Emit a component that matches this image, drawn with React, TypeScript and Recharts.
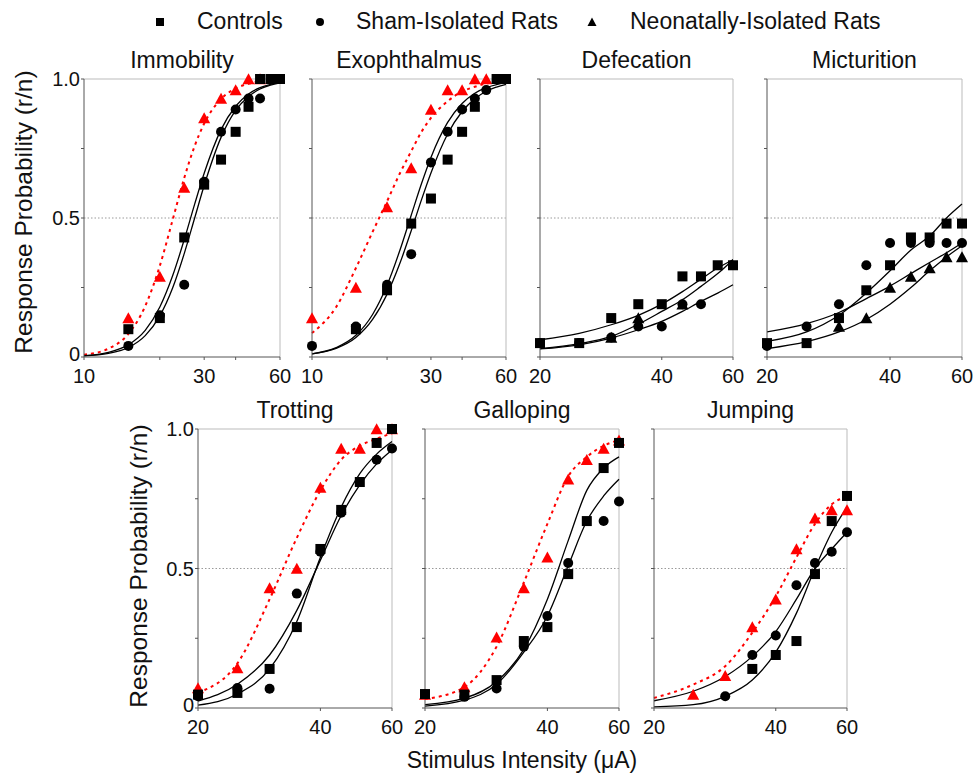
import React from 'react';
import { ComposedChart, Line, Scatter, XAxis, YAxis, ReferenceLine } from 'recharts';

const FONT = '"Liberation Sans", Arial, Helvetica, sans-serif';
const RED = '#ff0000';
const BLACK = '#000000';

// ---------- x values ----------
const doseWide = [10, 15, 20, 25, 30, 35, 40, 45, 50, 55, 60];
const doseNarrow = [20, 25, 30, 35, 40, 45, 50, 55, 60];
const fitWide = [10, 12.5, 15, 17.5, 20, 22.5, 25, 27.5, 30, 35, 40, 45, 50, 55, 60];
const fitNarrow = [20, 25, 30, 35, 40, 45, 50, 55, 60];
const xTicksWide = [10, 20, 30, 40, 60];
const xLabelsWide = [10, 30, 60];
const xTicksNarrow = [20, 40, 60];
const xLabelsNarrow = [20, 40, 60];
const yTicks = [0, 0.25, 0.5, 0.75, 1];
const yTickLabels = ['0', '', '0.5', '', '1.0'];

// ---------- Immobility ----------
const immobilityControls = [null, 0.10, 0.14, 0.43, 0.62, 0.71, 0.81, 0.90, 1.0, 1.0, 1.0];
const immobilitySham = [null, 0.04, 0.15, 0.26, 0.63, 0.81, 0.89, 0.93, 0.93, null, 1.0];
const immobilityNeonatal = [null, 0.14, 0.29, 0.61, 0.86, 0.93, 0.96, 1.0, 1.0, null, null];
const immobilityFitControls = [0.0052, 0.017, 0.044, 0.096, 0.18, 0.293, 0.422, 0.55, 0.661, 0.818, 0.902, 0.946, 0.969, 0.981, 0.988];
const immobilityFitSham = [0.0038, 0.0129, 0.034, 0.077, 0.148, 0.249, 0.372, 0.5, 0.617, 0.79, 0.887, 0.937, 0.964, 0.978, 0.986];
const immobilityFitNeonatal = [0.0083, 0.03, 0.083, 0.183, 0.328, 0.494, 0.644, 0.759, 0.84, 0.928, 0.966, 0.983, 0.991, 0.995, 0.997];

// ---------- Exophthalmus ----------
const exophthalmusControls = [null, 0.10, 0.24, 0.48, 0.57, 0.71, 0.81, 0.90, null, 1.0, 1.0];
const exophthalmusSham = [0.04, 0.11, 0.26, 0.37, 0.70, 0.81, 0.89, 0.93, 0.96, null, 1.0];
const exophthalmusNeonatal = [0.14, 0.25, 0.54, 0.68, 0.89, 0.96, 0.96, 1.0, 1.0, null, null];
const exophthalmusFitControls = [0.0111, 0.031, 0.07, 0.135, 0.226, 0.336, 0.454, 0.566, 0.662, 0.802, 0.883, 0.929, 0.956, 0.971, 0.981];
const exophthalmusFitSham = [0.0115, 0.0336, 0.078, 0.153, 0.258, 0.383, 0.51, 0.624, 0.718, 0.844, 0.912, 0.949, 0.969, 0.98, 0.987];
const exophthalmusFitNeonatal = [0.086, 0.18, 0.32, 0.45, 0.56, 0.66, 0.74, 0.81, 0.86, 0.92, 0.955, 0.972, 0.983, 0.99, 0.994];

// ---------- Defecation ----------
const defecationControls = [0.05, 0.05, 0.14, 0.19, 0.19, 0.29, 0.29, 0.33, 0.33];
const defecationSham = [0.05, 0.05, 0.07, 0.11, 0.11, 0.19, 0.19, null, null];
const defecationNeonatal = [null, null, 0.07, 0.14, null, 0.19, null, null, null];
const defecationFitControls = [0.062, 0.085, 0.116, 0.15, 0.19, 0.235, 0.28, 0.32, 0.35];
const defecationFitSham = [0.029, 0.044, 0.068, 0.098, 0.128, 0.164, 0.2, 0.23, 0.26];
const defecationFitNeonatal = [0.03, 0.048, 0.074, 0.118, 0.164, 0.206, 0.254, 0.3, 0.35];

// ---------- Micturition ----------
const micturitionControls = [0.05, 0.05, 0.14, 0.24, 0.33, 0.43, 0.43, 0.48, 0.48];
const micturitionSham = [0.04, 0.11, 0.19, 0.33, 0.41, 0.41, 0.41, 0.41, 0.41];
const micturitionNeonatal = [null, null, 0.11, 0.14, 0.25, 0.29, 0.32, 0.36, 0.36];
const micturitionFitControls = [0.056, 0.09, 0.15, 0.23, 0.31, 0.385, 0.435, 0.5, 0.55];
const micturitionFitSham = [0.09, 0.12, 0.16, 0.21, 0.255, 0.3, 0.34, 0.375, 0.41];
const micturitionFitNeonatal = [0.03, 0.055, 0.09, 0.135, 0.19, 0.25, 0.31, 0.36, 0.4];

// ---------- Trotting ----------
const trottingControls = [0.048, 0.054, 0.14, 0.29, 0.57, 0.71, 0.81, 0.95, 1.0];
const trottingSham = [0.042, 0.072, 0.069, 0.41, 0.56, 0.70, null, 0.89, 0.93];
const trottingNeonatal = [0.072, 0.143, 0.43, 0.50, 0.79, 0.93, 0.93, 1.0, 1.0];
const trottingFitControls = [0.01, 0.05, 0.14, 0.31, 0.54, 0.72, 0.84, 0.91, 0.955];
const trottingFitSham = [0.025, 0.085, 0.19, 0.35, 0.53, 0.69, 0.8, 0.875, 0.925];
const trottingFitNeonatal = [0.055, 0.16, 0.39, 0.61, 0.78, 0.89, 0.94, 0.965, 0.985];

// ---------- Galloping ----------
const gallopingControls = [0.05, 0.048, 0.10, 0.24, 0.29, 0.48, 0.67, 0.86, 0.95];
const gallopingSham = [null, 0.04, 0.07, 0.22, 0.33, 0.52, null, 0.67, 0.74];
const gallopingNeonatal = [0.048, 0.075, 0.254, 0.43, 0.54, 0.82, 0.89, 0.93, 0.96];
const gallopingFitControls = [0.012, 0.035, 0.095, 0.21, 0.39, 0.6, 0.78, 0.86, 0.9];
const gallopingFitSham = [0.007, 0.028, 0.085, 0.2, 0.33, 0.51, 0.67, 0.76, 0.82];
const gallopingFitNeonatal = [0.032, 0.075, 0.22, 0.45, 0.66, 0.83, 0.9, 0.94, 0.96];

// ---------- Jumping ----------
const jumpingControls = [null, null, null, 0.14, 0.19, 0.24, 0.48, 0.67, 0.76];
const jumpingSham = [null, null, 0.042, 0.19, 0.26, 0.44, 0.52, 0.56, 0.63];
const jumpingNeonatal = [null, 0.048, 0.116, 0.29, 0.39, 0.57, 0.68, 0.71, 0.71];
const jumpingFitControls = [0.004, 0.012, 0.042, 0.1, 0.2, 0.34, 0.5, 0.63, 0.72];
const jumpingFitSham = [0.026, 0.06, 0.113, 0.185, 0.274, 0.39, 0.5, 0.57, 0.63];
const jumpingFitNeonatal = [0.036, 0.084, 0.15, 0.27, 0.4, 0.54, 0.66, 0.73, 0.76];

type ShapeKind = 'square' | 'circle' | 'triangle';

const Marker = (kind: ShapeKind, color: string, size: number) => (props: any) => {
  const { cx, cy } = props;
  if (cx == null || cy == null) return <g />;
  const h = size / 2;
  if (kind === 'square') return <rect x={cx - h} y={cy - h} width={size} height={size} fill={color} />;
  if (kind === 'circle') return <circle cx={cx} cy={cy} r={h} fill={color} />;
  const tw = size * 1.15;
  return (
    <polygon
      points={`${cx},${cy - h - 0.5} ${cx - tw / 2},${cy + h} ${cx + tw / 2},${cy + h}`}
      fill={color}
    />
  );
};

type SeriesDef = {
  name: string;
  pts: (number | null)[];
  fit: number[];
  kind: ShapeKind;
  color: string;
  dashed: boolean;
};

type PanelDef = {
  title: string;
  left: number;
  top: number;
  w: number;
  h: number;
  wide: boolean;
  showY: boolean;
  series: SeriesDef[];
};

const mk = (
  c: (number | null)[], s: (number | null)[], n: (number | null)[],
  fc: number[], fs: number[], fn: number[], redNeonatal: boolean
): SeriesDef[] => [
  { name: 'neonatal', pts: n, fit: fn, kind: 'triangle', color: redNeonatal ? RED : BLACK, dashed: redNeonatal },
  { name: 'controls', pts: c, fit: fc, kind: 'square', color: BLACK, dashed: false },
  { name: 'sham', pts: s, fit: fs, kind: 'circle', color: BLACK, dashed: false },
];

const panels: PanelDef[] = [
  { title: 'Immobility', left: 84, top: 79, w: 196, h: 278, wide: true, showY: true,
    series: mk(immobilityControls, immobilitySham, immobilityNeonatal, immobilityFitControls, immobilityFitSham, immobilityFitNeonatal, true) },
  { title: 'Exophthalmus', left: 312, top: 79, w: 194, h: 278, wide: true, showY: false,
    series: mk(exophthalmusControls, exophthalmusSham, exophthalmusNeonatal, exophthalmusFitControls, exophthalmusFitSham, exophthalmusFitNeonatal, true) },
  { title: 'Defecation', left: 540, top: 79, w: 193, h: 278, wide: false, showY: false,
    series: mk(defecationControls, defecationSham, defecationNeonatal, defecationFitControls, defecationFitSham, defecationFitNeonatal, false) },
  { title: 'Micturition', left: 767, top: 79, w: 195, h: 278, wide: false, showY: false,
    series: mk(micturitionControls, micturitionSham, micturitionNeonatal, micturitionFitControls, micturitionFitSham, micturitionFitNeonatal, false) },
  { title: 'Trotting', left: 198, top: 429, w: 194, h: 279, wide: false, showY: true,
    series: mk(trottingControls, trottingSham, trottingNeonatal, trottingFitControls, trottingFitSham, trottingFitNeonatal, true) },
  { title: 'Galloping', left: 425, top: 429, w: 194, h: 279, wide: false, showY: false,
    series: mk(gallopingControls, gallopingSham, gallopingNeonatal, gallopingFitControls, gallopingFitSham, gallopingFitNeonatal, true) },
  { title: 'Jumping', left: 654, top: 429, w: 193, h: 279, wide: false, showY: false,
    series: mk(jumpingControls, jumpingSham, jumpingNeonatal, jumpingFitControls, jumpingFitSham, jumpingFitNeonatal, true) },
];

const ML = 60;
const MT = 12;
const MR = 12;
const XH = 40;
const TICK_FONT = 20;

const YTick = (showY: boolean) => (props: any) => {
  const { x, y, payload } = props;
  const v = payload?.value;
  const idx = yTicks.indexOf(v);
  const label = showY && idx >= 0 ? yTickLabels[idx] : '';
  if (!label) return <g />;
  return (
    <text
      x={x}
      y={y}
      dy={v === 0 ? '0.18em' : '0.355em'}
      textAnchor="end"
      fontSize={TICK_FONT}
      fontFamily={FONT}
      fill="#111"
    >
      {label}
    </text>
  );
};

function Panel({ p }: { p: PanelDef }) {
  const doses = p.wide ? doseWide : doseNarrow;
  const fitX = p.wide ? fitWide : fitNarrow;
  const domain: [number, number] = p.wide ? [10, 60] : [20, 60];
  const xTicks = p.wide ? xTicksWide : xTicksNarrow;
  const xLabels = p.wide ? xLabelsWide : xLabelsNarrow;
  const chartW = ML + p.w + MR;
  const chartH = MT + p.h + XH;
  const tickStyle = { fontSize: TICK_FONT, fill: '#111', fontFamily: FONT };
  return (
    <div style={{ position: 'absolute', left: p.left - ML, top: p.top - MT }}>
      <ComposedChart width={chartW} height={chartH} margin={{ top: MT, right: MR, bottom: 0, left: 0 }}>
        <XAxis
          dataKey="x"
          type="number"
          scale="log"
          domain={domain}
          ticks={xTicks}
          tickFormatter={(v: number) => (xLabels.includes(v) ? String(v) : '')}
          height={XH}
          tickSize={3}
          tickMargin={9}
          stroke="#555"
          tick={tickStyle}
          interval={0}
        />
        <YAxis
          dataKey="y"
          type="number"
          domain={[0, 1]}
          ticks={yTicks}
          width={ML}
          tickSize={3}
          tickMargin={1}
          stroke="#555"
          tick={YTick(p.showY)}
          interval={0}
        />
        <ReferenceLine y={0.5} stroke="#9a9a9a" strokeDasharray="1.5 2" strokeWidth={1} />
        <ReferenceLine y={1} stroke="#bbbbbb" strokeWidth={1} />
        <ReferenceLine x={domain[1]} stroke="#bbbbbb" strokeWidth={1} />
        {p.series.map((s) => (
          <Line
            key={'fit-' + s.name}
            data={fitX.map((x, i) => ({ x, y: s.fit[i] }))}
            dataKey="y"
            type="monotone"
            dot={false}
            activeDot={false}
            stroke={s.dashed ? RED : BLACK}
            strokeWidth={s.dashed ? 2 : 1.3}
            strokeDasharray={s.dashed ? '3 4' : undefined}
            isAnimationActive={false}
          />
        ))}
        {p.series.map((s) => (
          <Scatter
            key={'pts-' + s.name}
            data={doses.map((x, i) => ({ x, y: s.pts[i] })).filter((d) => d.y != null)}
            shape={Marker(s.kind, s.color, s.kind === 'triangle' ? 10.5 : 10)}
            isAnimationActive={false}
          />
        ))}
      </ComposedChart>
      <div
        style={{
          position: 'absolute',
          left: ML - 40,
          width: p.w + 80,
          top: MT - 30,
          lineHeight: '23px',
          fontSize: 23,
          fontFamily: FONT,
          color: '#111',
          textAlign: 'center',
          whiteSpace: 'nowrap',
        }}
      >
        {p.title}
      </div>
    </div>
  );
}

const legendItems: { label: string; kind: ShapeKind; cx: number; tx: number }[] = [
  { label: 'Controls', kind: 'square', cx: 160, tx: 197 },
  { label: 'Sham-Isolated Rats', kind: 'circle', cx: 320, tx: 356 },
  { label: 'Neonatally-Isolated Rats', kind: 'triangle', cx: 592, tx: 630 },
];

function LegendIcon({ kind }: { kind: ShapeKind }) {
  const s = 8;
  return (
    <svg width={12} height={12} style={{ display: 'block' }}>
      {kind === 'square' && <rect x={6 - s / 2} y={6 - s / 2} width={s} height={s} fill="#000" />}
      {kind === 'circle' && <circle cx={6} cy={6} r={4} fill="#000" />}
      {kind === 'triangle' && <polygon points="6,1.5 1.5,10 10.5,10" fill="#000" />}
    </svg>
  );
}

export default function App() {
  const textBase: React.CSSProperties = {
    position: 'absolute',
    fontFamily: FONT,
    color: '#111',
    whiteSpace: 'nowrap',
  };
  return (
    <div style={{ position: 'absolute', left: 0, top: 0, width: 975, height: 773, background: '#fff', overflow: 'hidden' }}>
      {legendItems.map((it) => (
        <React.Fragment key={it.label}>
          <div style={{ position: 'absolute', left: it.cx - 6, top: 16 }}>
            <LegendIcon kind={it.kind} />
          </div>
          <div style={{ ...textBase, left: it.tx, top: 10, fontSize: 23, lineHeight: '23px' }}>{it.label}</div>
        </React.Fragment>
      ))}
      {panels.map((p) => (
        <Panel key={p.title} p={p} />
      ))}
      {[
        { cx: 24, cy: 212 },
        { cx: 139, cy: 566 },
      ].map((pos, i) => (
        <div
          key={'ylab' + i}
          style={{
            ...textBase,
            left: pos.cx - 170,
            top: pos.cy - 15,
            width: 340,
            height: 30,
            lineHeight: '30px',
            fontSize: 24.5,
            textAlign: 'center',
            transform: 'rotate(-90deg)',
          }}
        >
          Response Probability (r/n)
        </div>
      ))}
      <div style={{ ...textBase, left: 522 - 200, width: 400, top: 749, fontSize: 23, lineHeight: '23px', textAlign: 'center' }}>
        Stimulus Intensity (μA)
      </div>
    </div>
  );
}
